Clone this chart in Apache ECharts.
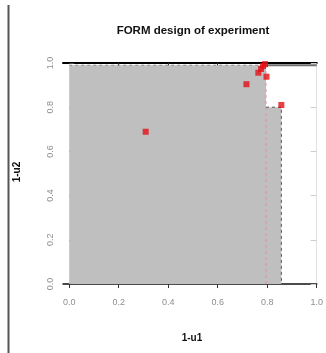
<!DOCTYPE html>
<html>
<head>
<meta charset="utf-8">
<style>
  html, body { margin: 0; padding: 0; background: #fff; }
  #chart { width: 326px; height: 353px; }
</style>
<script src="https://cdn.jsdelivr.net/npm/echarts@6/dist/echarts.min.js"></script>
</head>
<body>
<div id="chart"></div>
<script>
// Tick positions on both axes
const xTicks = [0, 0.2, 0.4, 0.6, 0.8, 1.0];
const yTicks = [0, 0.2, 0.4, 0.6, 0.8, 1.0];

// Design points of the experiment (1-u1, 1-u2)
const pointU1 = [0.309, 0.716, 0.764, 0.775, 0.783, 0.791, 0.797, 0.857];
const pointU2 = [0.689, 0.904, 0.956, 0.973, 0.986, 0.995, 0.938, 0.810];

// Staircase boundary of the shaded region
const regionU1 = [0, 0.795, 0.795, 0.857, 0.857];
const regionU2 = [0.99, 0.99, 0.80, 0.80, 0];

// Dashed bounds
const innerBoundU1 = 0.795;
const outerBoundU1 = 0.857;
const stepU2 = 0.80;
const topU2 = 0.99;

const zip = (a, b) => a.map((v, i) => [v, b[i]]);

const chart = echarts.init(document.getElementById('chart'));

const labelColor = '#8e8e8e';

chart.setOption({
  animation: false,
  grid: { left: 63, right: 8, top: 63, bottom: 69 },
  xAxis: [
    {
      type: 'value', position: 'bottom', min: -0.025, max: 1.0,
      splitLine: { show: false },
      axisLine: { show: true, onZero: false, lineStyle: { color: '#111', width: 1.5 } },
      axisTick: { show: true, length: 4, customValues: xTicks, lineStyle: { color: '#333' } },
      axisLabel: {
        customValues: xTicks, margin: 14, color: labelColor, fontSize: 9,
        fontFamily: 'Liberation Sans, Arial, sans-serif',
        formatter: v => v.toFixed(1)
      }
    },
    {
      type: 'value', position: 'top', min: -0.025, max: 1.0,
      splitLine: { show: false },
      axisLine: { show: true, onZero: false, lineStyle: { color: '#000', width: 2 } },
      axisTick: { show: true, inside: true, length: 4, customValues: xTicks.slice(1, 5), lineStyle: { color: '#333' } },
      axisLabel: { show: false }
    }
  ],
  yAxis: [
    {
      type: 'value', position: 'left', min: 0, max: 1.0, interval: 0.2,
      splitLine: { show: false },
      axisLine: { show: false },
      axisTick: { show: true, inside: true, length: 5, lineStyle: { color: '#444' } },
      axisLabel: {
        rotate: 90, margin: 8, color: labelColor, fontSize: 9,
        fontFamily: 'Liberation Sans, Arial, sans-serif',
        formatter: v => v.toFixed(1)
      }
    },
    {
      type: 'value', position: 'right', min: 0, max: 1.0, interval: 0.2,
      splitLine: { show: false },
      axisLine: { show: true, onZero: false, lineStyle: { color: '#e2e2e2', width: 1 } },
      axisTick: { show: true, inside: true, length: 6, lineStyle: { color: '#cfcfcf' } },
      axisLabel: { show: false }
    }
  ],
  series: [
    {
      name: 'region', type: 'line', silent: true, symbol: 'none',
      data: zip(regionU1, regionU2),
      lineStyle: { width: 0 },
      areaStyle: { color: '#bfbfbf', opacity: 1 },
      z: 1
    },
    {
      name: 'top bound', type: 'line', silent: true, symbol: 'none',
      data: [[0, topU2], [innerBoundU1, topU2]],
      lineStyle: { color: '#8a8a8a', width: 1, type: [3, 3] },
      z: 2
    },
    {
      name: 'top band', type: 'line', silent: true, symbol: 'none',
      data: [[innerBoundU1, topU2], [1.0, topU2]],
      lineStyle: { color: '#6e6e6e', width: 2 },
      z: 2
    },
    {
      name: 'inner bound', type: 'line', silent: true, symbol: 'none',
      data: [[innerBoundU1, 0], [innerBoundU1, topU2]],
      lineStyle: { color: '#e48ea0', width: 1, type: [3, 3] },
      z: 3
    },
    {
      name: 'outer bound', type: 'line', silent: true, symbol: 'none',
      data: [[innerBoundU1, stepU2], [outerBoundU1, stepU2], [outerBoundU1, 0]],
      lineStyle: { color: '#555', width: 1, type: [3, 3] },
      z: 3
    },
    {
      name: 'design', type: 'scatter', symbol: 'rect', symbolSize: 6,
      data: zip(pointU1, pointU2),
      itemStyle: { color: '#e30f16' },
      z: 5
    }
  ],
  graphic: [
    {
      type: 'line', silent: true,
      shape: { x1: 8.5, y1: 5, x2: 8.5, y2: 353 },
      style: { stroke: '#555', lineWidth: 2 }
    },
    {
      type: 'text', x: 193, y: 31,
      style: {
        text: 'FORM design of experiment', fill: '#111',
        font: 'bold 11.5px "Liberation Sans", Arial, sans-serif',
        align: 'center', verticalAlign: 'middle'
      }
    },
    {
      type: 'text', x: 192, y: 338,
      style: {
        text: '1-u1', fill: '#111',
        font: 'bold 10px "Liberation Sans", Arial, sans-serif',
        align: 'center', verticalAlign: 'middle'
      }
    },
    {
      type: 'text', x: 17, y: 172, rotation: Math.PI / 2,
      style: {
        text: '1-u2', fill: '#111',
        font: 'bold 10px "Liberation Sans", Arial, sans-serif',
        align: 'center', verticalAlign: 'middle'
      }
    }
  ]
});
</script>
</body>
</html>
